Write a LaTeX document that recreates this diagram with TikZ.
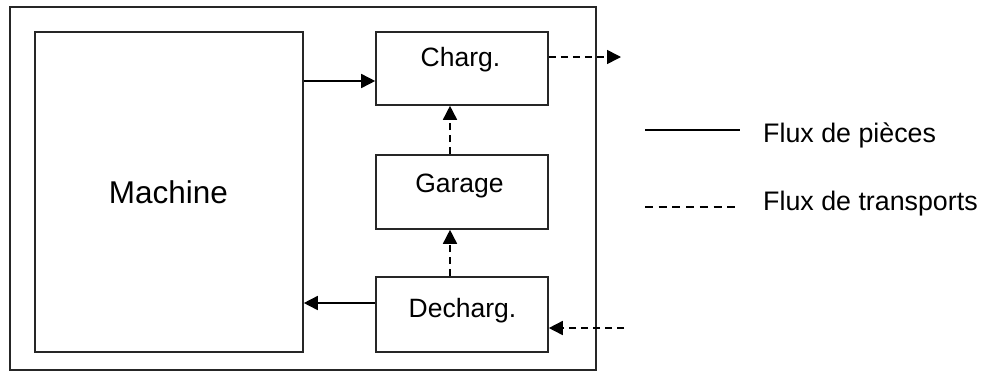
\documentclass[tikz,border=0pt]{standalone}
\usepackage{fontspec}
\setmainfont{Liberation Sans}
\usetikzlibrary{arrows.meta}
\begin{document}
\begin{tikzpicture}[x=1pt,y=-1pt,
  frame/.style={draw=black!85,line width=1.6pt},
  box/.style={draw=black!85,line width=1.6pt,rectangle,inner sep=0pt},
  lbl/.style={anchor=base,inner sep=0pt,font=\fontsize{26.5}{31}\selectfont},
  mlbl/.style={anchor=base,inner sep=0pt,font=\fontsize{31.5}{36}\selectfont},
  leg/.style={anchor=base west,inner sep=0pt,font=\fontsize{26.8}{31}\selectfont},
  flow/.style={line width=1.6pt,-{Triangle[length=14pt,width=14pt]}},
  trans/.style={line width=1.6pt,dash pattern=on 7pt off 5pt,-{Triangle[length=14pt,width=14pt]}},
  legline/.style={line width=1.6pt},
  legdash/.style={line width=1.6pt,dash pattern=on 8pt off 5.7pt}]
\useasboundingbox (0,0) rectangle (982,378);
\draw[frame] (10,7) rectangle (596,370);
\node[box,minimum width=268pt,minimum height=320pt] (machine) at (169,192) {};
\node[box,minimum width=172pt,minimum height=73pt] (charg) at (462,68.5) {};
\node[box,minimum width=172pt,minimum height=74pt] (garage) at (462,192) {};
\node[box,minimum width=172pt,minimum height=75pt] (decharg) at (462,314.5) {};
\node[mlbl] (machinet) at (168.5,203) {Machine};
\node[lbl] (chargt) at (460.5,66) {Charg.};
\node[lbl] (garaget) at (459.5,192) {Garage};
\node[lbl] (dechargt) at (462.5,317) {Decharg.};
\coordinate (ya) at (0,81);
\coordinate (yb) at (0,303);
\coordinate (yc) at (0,57);
\coordinate (yd) at (0,328);
\coordinate (vx) at (450,0);
\coordinate (outend) at (621,57);
\coordinate (instart) at (624,328);
\draw[flow] (machine.east |- ya) -- (charg.west |- ya);
\draw[flow] (decharg.west |- yb) -- (machine.east |- yb);
\draw[trans] (charg.east |- yc) -- (outend);
\draw[trans] (instart) -- (decharg.east |- yd);
\draw[trans] (garage.north -| vx) -- (charg.south -| vx);
\draw[trans] (decharg.north -| vx) -- (garage.south -| vx);
\coordinate (l1a) at (645,130);
\coordinate (l1b) at (740,130);
\coordinate (l2a) at (645,207);
\coordinate (l2b) at (740,207);
\draw[legline] (l1a) -- (l1b);
\draw[legdash] (l2a) -- (l2b);
\node[leg] (leg1) at (763,142) {Flux de pièces};
\node[leg] (leg2) at (763,210) {Flux de transports};
\end{tikzpicture}
\end{document}
